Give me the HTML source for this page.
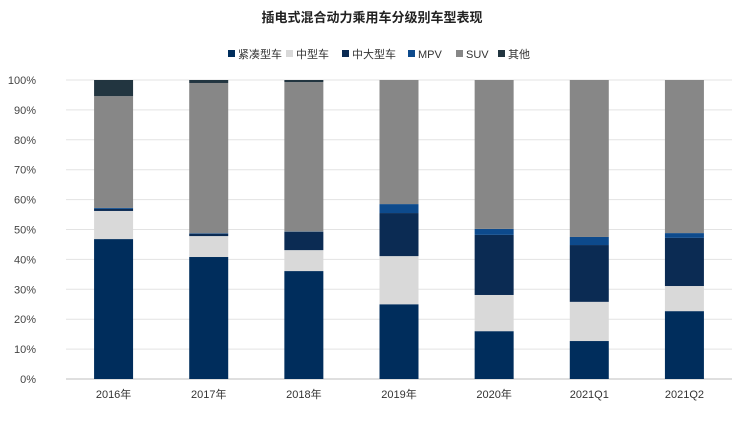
<!DOCTYPE html>
<html><head><meta charset="utf-8"><style>
body{margin:0;background:#fff;font-family:"Liberation Sans","Noto Sans CJK SC",sans-serif;}
</style></head><body>
<svg id="chart" width="744" height="420" xmlns="http://www.w3.org/2000/svg">
<text x="372" y="22" text-anchor="middle" font-size="13" font-weight="bold" fill="#222" font-family="Liberation Sans, Noto Sans CJK SC, sans-serif">插电式混合动力乘用车分级别车型表现</text>
<g id="legend"></g>
<g id="grid"></g>
<g id="bars"></g>
<g id="axes"></g>
</svg>
<script>
const categories=["2016年","2017年","2018年","2019年","2020年","2021Q1","2021Q2"];
const seriesNames=["紧凑型车","中型车","中大型车","MPV","SUV","其他"];
const compact=[46.8,40.8,36.1,25.0,16.0,12.7,22.7];
const midsize=[9.4,7.0,7.0,16.1,12.1,13.1,8.4];
const large=[0.7,0.7,6.1,14.4,20.1,19.0,16.1];
const mpv=[0.3,0.2,0.1,3.0,2.0,2.7,1.6];
const suv=[37.4,50.3,50.0,41.5,49.8,52.5,51.2];
const other=[5.4,1.0,0.7,0,0,0,0];
const yTicks=[0,10,20,30,40,50,60,70,80,90,100];
const colors=["#002d5c","#d9d9d9","#0b2b53","#0d4a8c","#878787","#223540"];
const series=[compact,midsize,large,mpv,suv,other];
const NS="http://www.w3.org/2000/svg";
const x0=66,x1=732,yB=379,yT=80;
const y=v=>yB-(v/100)*(yB-yT);
const step=(x1-x0)/categories.length;
const xc=i=>x0+step*(i+0.5);
const bw=39;
function mk(t,a,p){const e=document.createElementNS(NS,t);for(const k in a)e.setAttribute(k,a[k]);p.appendChild(e);return e;}
const grid=document.getElementById('grid'),axes=document.getElementById('axes'),bars=document.getElementById('bars'),leg=document.getElementById('legend');
yTicks.forEach(t=>{
  const l=mk('line',{x1:x0,x2:x1,y1:y(t),y2:y(t),stroke:t===0?'#bfbfbf':'#e3e3e3','stroke-width':1},grid);
  
  
  const tx=mk('text',{x:36,y:y(t)+4,'text-anchor':'end','font-size':11,fill:'#444'},axes);
  tx.textContent=t+'%';
  
  
});
categories.forEach((c,i)=>{
  let acc=0;
  series.forEach((s,k)=>{
    const v=s[i];
    if(v>0){
      const r=mk('rect',{x:xc(i)-bw/2,y:y(acc+v),width:bw,height:y(acc)-y(acc+v),fill:colors[k]},bars);
      
      
    }
    acc+=v;
  });
  const tx=mk('text',{x:xc(i),y:398,'text-anchor':'middle','font-size':11,fill:'#333'},axes);
  tx.textContent=c;
  
  
});
const lx=[228,286,342,408,456,498];
seriesNames.forEach((n,k)=>{
  const r=mk('rect',{x:lx[k],y:50,width:7,height:7,fill:colors[k]},leg);
  
  
  const t=mk('text',{x:lx[k]+10,y:58,'font-size':11,fill:'#333'},leg);
  t.textContent=n;
  
  
});
</script>
</body></html>
